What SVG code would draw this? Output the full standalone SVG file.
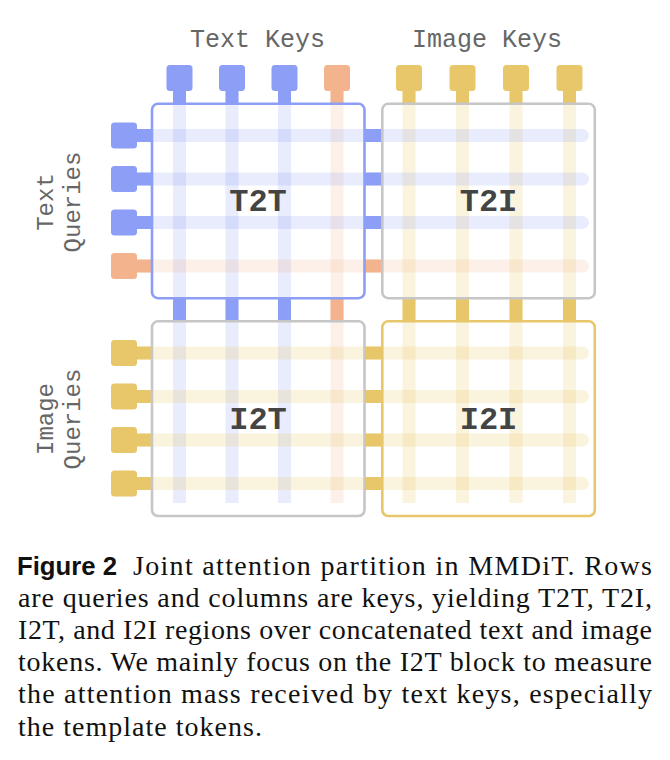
<svg xmlns="http://www.w3.org/2000/svg" width="670" height="760" viewBox="0 0 670 760">
<style>
.bg{fill:#ffffff}
.lb{stroke:#8C9EF5;stroke-opacity:0.2;stroke-width:13;fill:none}
.lo{stroke:#F2B38D;stroke-opacity:0.2;stroke-width:13;fill:none}
.ly{stroke:#E8C76B;stroke-opacity:0.22;stroke-width:13;fill:none}
.h{stroke-linecap:round}
.sb{stroke:#8C9EF5;stroke-width:13}
.so{stroke:#F2B38D;stroke-width:13}
.sy{stroke:#E8C76B;stroke-width:13}
.tb{fill:#8C9EF5}
.to{fill:#F2B38D}
.ty{fill:#E8C76B}
.box{fill:none;stroke-width:2.6}
.bb{stroke:#8C9EF5}
.bg2{stroke:#C6C6C6}
.by{stroke:#E8C76B}
.blk{font-family:"Liberation Mono","DejaVu Sans Mono",monospace;font-weight:bold;font-size:32px;fill:#444444;text-anchor:middle}
.ax{font-family:"Liberation Mono","DejaVu Sans Mono",monospace;font-size:24px;fill:#666666;text-anchor:middle}
.cap{font-family:"Liberation Serif","DejaVu Serif",serif;font-size:28px;fill:#111111}
.capb{font-family:"Liberation Sans","DejaVu Sans",sans-serif;font-weight:bold;font-size:25px;fill:#111111}
</style>
<rect class="bg" x="0" y="0" width="670" height="760"/>

<g id="connectors">
  <line class="lb" x1="179.5" y1="88" x2="179.5" y2="503"/>
  <line class="lb" x1="232" y1="88" x2="232" y2="503"/>
  <line class="lb" x1="284.5" y1="88" x2="284.5" y2="503"/>
  <line class="lo" x1="337" y1="88" x2="337" y2="503"/>
  <line class="ly" x1="409" y1="88" x2="409" y2="503"/>
  <line class="ly" x1="462.5" y1="88" x2="462.5" y2="503"/>
  <line class="ly" x1="516" y1="88" x2="516" y2="503"/>
  <line class="ly" x1="569.5" y1="88" x2="569.5" y2="503"/>
  <line class="lb h" x1="140" y1="135.5" x2="582.5" y2="135.5"/>
  <line class="lb h" x1="140" y1="179" x2="582.5" y2="179"/>
  <line class="lb h" x1="140" y1="222.5" x2="582.5" y2="222.5"/>
  <line class="lo h" x1="140" y1="266" x2="582.5" y2="266"/>
  <line class="ly h" x1="140" y1="353" x2="582.5" y2="353"/>
  <line class="ly h" x1="140" y1="396.5" x2="582.5" y2="396.5"/>
  <line class="ly h" x1="140" y1="440" x2="582.5" y2="440"/>
  <line class="ly h" x1="140" y1="483.5" x2="582.5" y2="483.5"/>
  <line class="sb" x1="179.5" y1="88" x2="179.5" y2="103"/>
  <line class="sb" x1="232" y1="88" x2="232" y2="103"/>
  <line class="sb" x1="284.5" y1="88" x2="284.5" y2="103"/>
  <line class="so" x1="337" y1="88" x2="337" y2="103"/>
  <line class="sy" x1="409" y1="88" x2="409" y2="103"/>
  <line class="sy" x1="462.5" y1="88" x2="462.5" y2="103"/>
  <line class="sy" x1="516" y1="88" x2="516" y2="103"/>
  <line class="sy" x1="569.5" y1="88" x2="569.5" y2="103"/>
  <line class="sb" x1="179.5" y1="298" x2="179.5" y2="321"/>
  <line class="sb" x1="232" y1="298" x2="232" y2="321"/>
  <line class="sb" x1="284.5" y1="298" x2="284.5" y2="321"/>
  <line class="so" x1="337" y1="298" x2="337" y2="321"/>
  <line class="sy" x1="409" y1="298" x2="409" y2="321"/>
  <line class="sy" x1="462.5" y1="298" x2="462.5" y2="321"/>
  <line class="sy" x1="516" y1="298" x2="516" y2="321"/>
  <line class="sy" x1="569.5" y1="298" x2="569.5" y2="321"/>
  <line class="sb" x1="134" y1="135.5" x2="152" y2="135.5"/>
  <line class="sb" x1="134" y1="179" x2="152" y2="179"/>
  <line class="sb" x1="134" y1="222.5" x2="152" y2="222.5"/>
  <line class="so" x1="134" y1="266" x2="152" y2="266"/>
  <line class="sy" x1="134" y1="353" x2="152" y2="353"/>
  <line class="sy" x1="134" y1="396.5" x2="152" y2="396.5"/>
  <line class="sy" x1="134" y1="440" x2="152" y2="440"/>
  <line class="sy" x1="134" y1="483.5" x2="152" y2="483.5"/>
  <line class="sb" x1="364" y1="135.5" x2="382" y2="135.5"/>
  <line class="sb" x1="364" y1="179" x2="382" y2="179"/>
  <line class="sb" x1="364" y1="222.5" x2="382" y2="222.5"/>
  <line class="so" x1="364" y1="266" x2="382" y2="266"/>
  <line class="sy" x1="364" y1="353" x2="382" y2="353"/>
  <line class="sy" x1="364" y1="396.5" x2="382" y2="396.5"/>
  <line class="sy" x1="364" y1="440" x2="382" y2="440"/>
  <line class="sy" x1="364" y1="483.5" x2="382" y2="483.5"/>
</g>

<g id="text-key-1"><rect class="tb" x="166.5" y="65" width="26" height="26" rx="3.5"/></g>
<g id="text-key-2"><rect class="tb" x="219" y="65" width="26" height="26" rx="3.5"/></g>
<g id="text-key-3"><rect class="tb" x="271.5" y="65" width="26" height="26" rx="3.5"/></g>
<g id="text-key-4"><rect class="to" x="324" y="65" width="26" height="26" rx="3.5"/></g>
<g id="image-key-1"><rect class="ty" x="396" y="65" width="26" height="26" rx="3.5"/></g>
<g id="image-key-2"><rect class="ty" x="449.5" y="65" width="26" height="26" rx="3.5"/></g>
<g id="image-key-3"><rect class="ty" x="503" y="65" width="26" height="26" rx="3.5"/></g>
<g id="image-key-4"><rect class="ty" x="556.5" y="65" width="26" height="26" rx="3.5"/></g>

<g id="text-query-1"><rect class="tb" x="111" y="122.5" width="26" height="26" rx="3.5"/></g>
<g id="text-query-2"><rect class="tb" x="111" y="166" width="26" height="26" rx="3.5"/></g>
<g id="text-query-3"><rect class="tb" x="111" y="209.5" width="26" height="26" rx="3.5"/></g>
<g id="text-query-4"><rect class="to" x="111" y="253" width="26" height="26" rx="3.5"/></g>
<g id="image-query-1"><rect class="ty" x="111" y="340" width="26" height="26" rx="3.5"/></g>
<g id="image-query-2"><rect class="ty" x="111" y="383.5" width="26" height="26" rx="3.5"/></g>
<g id="image-query-3"><rect class="ty" x="111" y="427" width="26" height="26" rx="3.5"/></g>
<g id="image-query-4"><rect class="ty" x="111" y="470.5" width="26" height="26" rx="3.5"/></g>

<g id="T2T">
  <rect class="box bb" x="152" y="103.8" width="212.5" height="194.4" rx="6"/>
  <text class="blk" x="258" y="210.5">T2T</text>
</g>
<g id="T2I">
  <rect class="box bg2" x="382.3" y="103.8" width="212.5" height="194.4" rx="6"/>
  <text class="blk" x="488.5" y="210.5">T2I</text>
</g>
<g id="I2T">
  <rect class="box bg2" x="152" y="321.3" width="212.5" height="194.7" rx="6"/>
  <text class="blk" x="258" y="429.3">I2T</text>
</g>
<g id="I2I">
  <rect class="box by" x="382.3" y="321.3" width="212.5" height="194.7" rx="6"/>
  <text class="blk" x="488.5" y="429.3">I2I</text>
</g>

<g id="axis-labels">
  <text class="ax" style="font-size:25px" x="257.5" y="46.5">Text Keys</text>
  <text class="ax" style="font-size:25px" x="487" y="46.5">Image Keys</text>
  <text class="ax" transform="translate(52.5,202) rotate(-90)">Text</text>
  <text class="ax" transform="translate(79.5,202) rotate(-90)">Queries</text>
  <text class="ax" transform="translate(52.5,419) rotate(-90)">Image</text>
  <text class="ax" transform="translate(79.5,419) rotate(-90)">Queries</text>
</g>

<g id="caption">
  <text class="capb" x="17" y="574.5" textLength="100" lengthAdjust="spacingAndGlyphs">Figure 2</text>
  <text class="cap" x="133" y="574.5" textLength="519" lengthAdjust="spacing">Joint attention partition in MMDiT. Rows</text>
  <text class="cap" x="18" y="606.7" textLength="634" lengthAdjust="spacing">are queries and columns are keys, yielding T2T, T2I,</text>
  <text class="cap" x="18" y="639" textLength="634" lengthAdjust="spacing">I2T, and I2I regions over concatenated text and image</text>
  <text class="cap" x="18" y="671.2" textLength="634" lengthAdjust="spacing">tokens. We mainly focus on the I2T block to measure</text>
  <text class="cap" x="18" y="703.4" textLength="634" lengthAdjust="spacing">the attention mass received by text keys, especially</text>
  <text class="cap" x="18" y="735.6" textLength="244" lengthAdjust="spacing">the template tokens.</text>
</g>
</svg>
